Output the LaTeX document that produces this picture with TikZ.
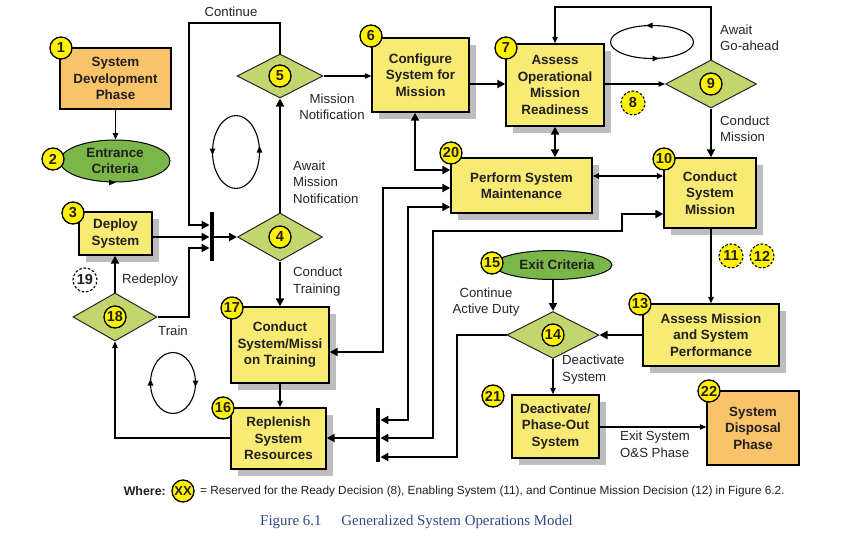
\documentclass[tikz,border=0pt]{standalone}
\usepackage{fontspec}
\setmainfont{Liberation Sans}
\newfontfamily\capserif{Liberation Serif}
\usetikzlibrary{arrows.meta,shapes.geometric,shadows}
\definecolor{boxy}{HTML}{F8EB74}
\definecolor{boxo}{HTML}{F9C36A}
\definecolor{elgreen}{HTML}{7AB648}
\definecolor{diagreen}{HTML}{C3D56E}
\definecolor{badgey}{HTML}{FFF200}
\definecolor{shadowg}{HTML}{BDBDBD}
\definecolor{txt}{HTML}{231F20}
\definecolor{capblue}{HTML}{2F4A8A}
\newcommand\boxfnt{\fontsize{13.4}{16.5}\selectfont\bfseries}
\newcommand\lblfnt{\fontsize{13.2}{16.5}\selectfont}
\newcommand\bdgfnt{\fontsize{14.5}{15}\selectfont\bfseries}
\tikzset{
  boxbase/.style={draw=black, line width=1.4pt, align=center, font=\boxfnt, text=txt, inner sep=0pt},
  ybox/.style={boxbase, fill=boxy, drop shadow={shadow xshift=7pt, shadow yshift=-7pt, fill=shadowg, opacity=1}},
  obox/.style={boxbase, fill=boxo},
  gell/.style={ellipse, draw=black, line width=1pt, fill=elgreen, font=\boxfnt, text=txt, inner sep=0pt, align=center},
  dia/.style={diamond, draw=black!85, line width=1pt, fill=diagreen, inner sep=0pt},
  badge/.style={circle, draw=black, line width=1.3pt, fill=badgey, minimum size=22pt, inner sep=0pt, font=\bdgfnt, text=txt},
  dbadge/.style={badge, minimum size=24pt, dash pattern=on 2.6pt off 1.8pt, line width=1.1pt},
  wbadge/.style={dbadge, fill=white},
  lbl/.style={font=\lblfnt, text=black!85, inner sep=0pt},
  bar/.style={fill=black, inner sep=0pt, minimum width=4.5pt},
  thn/.style={line width=1.2pt},
  mdl/.style={line width=1.8pt},
  thk/.style={line width=2.8pt},
  tipS/.tip={Triangle[length=6.5pt,width=5.5pt]},
  tipL/.tip={Triangle[length=8pt,width=8pt]},
  sa/.style={-tipS},
  la/.style={-tipL},
  sdbl/.style={tipS-tipS},
  ldbl/.style={tipL-tipL},
  cyc/.style={line width=1.1pt}
}
\begin{document}
\begin{tikzpicture}[x=1pt,y=-1pt]
\useasboundingbox[fill=white] (0,0) rectangle (844,546);

% ---- nodes
\node[obox, minimum width=111pt, minimum height=61pt] (n1) at (115.5,78.5) {System\\Development\\Phase};
\node[gell, minimum width=110pt, minimum height=42pt] (n2) at (115,161) {Entrance\\Criteria};
\node[ybox, minimum width=73pt, minimum height=43pt] (n3) at (115.5,233.5) {Deploy\\System};
\node[dia, minimum width=85pt, minimum height=48pt] (d4) at (280,237) {};
\node[dia, minimum width=86pt, minimum height=44pt] (d5) at (280,76) {};
\node[ybox, minimum width=97pt, minimum height=74pt] (n6) at (420.5,75) {Configure\\System for\\Mission};
\node[ybox, minimum width=98pt, minimum height=82pt] (n7) at (555,85) {Assess\\Operational\\Mission\\Readiness};
\node[dia, minimum width=91pt, minimum height=48pt] (d9) at (711,84) {};
\node[ybox, minimum width=92pt, minimum height=70pt] (n10) at (710,193) {Conduct\\System\\Mission};
\node[ybox, minimum width=141pt, minimum height=55pt] (n20) at (521.5,185.5) {Perform System\\Maintenance};
\node[ybox, minimum width=136pt, minimum height=62pt] (n13) at (711,335) {Assess Mission\\and System\\Performance};
\node[dia, minimum width=92pt, minimum height=47pt] (d14) at (553,335) {};
\node[gell, minimum width=111pt, minimum height=29pt] (n15) at (553,265) {\hspace*{8pt}Exit Criteria};
\node[ybox, minimum width=87pt, minimum height=63pt] (n21) at (555.5,426.5) {Deactivate/\\Phase-Out\\System};
\node[obox, minimum width=92pt, minimum height=74pt] (n22) at (753,428) {System\\Disposal\\Phase};
\node[ybox, minimum width=98pt, minimum height=76pt] (n17) at (280,345) {Conduct\\System/Missi\\on Training};
\node[ybox, minimum width=95pt, minimum height=61pt] (n16) at (278.5,438.5) {Replenish\\System\\Resources};
\node[dia, minimum width=84pt, minimum height=48pt] (d18) at (115,317) {};

\node[bar, minimum height=49pt] (barA) at (212,236.5) {};
\node[bar, minimum height=54pt] (barB) at (378,435) {};

% ---- connectors
\draw[thn, sa] (n1.south) -- (n1.south |- n2.north);
\draw[thn, sa] (n2.south) -- (n2.south -| n3.north);
\draw[thk, la] (n3.east |- 0,237) -- (barA.west |- 0,237);
\draw[thk, la] (barA.east |- d4.west) -- (d4.west);
\draw[thk, la] (d4.north) -- (d5.south);
\draw[thk, la] (d5.north) -- (280,23) -- (189,23) -- (189,225) -- (barA.west |- 0,225);
\draw[thk, la] (d18.east) -- (189,317) -- (189,248) -- (barA.west |- 0,248);
\draw[thn, sa] (d5.east) -- (n6.west |- d5.east);
\draw[thk, la] (n6.east |- 0,84) -- (n7.west |- 0,84);
\draw[thn, sa] (n7.east |- d9.west) -- (d9.west);
\draw[thn, sa] (d9.north) -- (711,7) -- (555,7) -- (n7.north);
\draw[thk, la] (d9.south) -- (d9.south |- n10.north);
\draw[thk, ldbl] (n7.south) -- (n7.south |- n20.north);
\draw[mdl, sdbl] (n20.east |- 0,176) -- (n10.west |- 0,176);
\draw[thk, ldbl] (n6.south -| 415,0) -- (415,170) -- (n20.west |- 0,170);
\draw[thk, ldbl] (n20.west |- 0,188) -- (383,188) -- (383,352) -- (n17.east |- 0,352);
\draw[thk, ldbl] (n20.west |- 0,207) -- (408,207) -- (408,420) -- (barB.east |- 0,420);
\draw[thk, ldbl] (n10.west |- 0,214) -- (622,214) -- (622,231) -- (433,231) -- (433,438) -- (barB.east |- 0,438);
\draw[thk, la] (d14.west) -- (457,335) -- (457,457) -- (barB.east |- 0,457);
\draw[thk, la] (barB.west |- 0,438) -- (n16.east |- 0,438);
\draw[thn, sa] (n16.west |- 0,438) -- (115,438) -- (d18.south);
\draw[thk, la] (d18.north) -- (n3.south -| d18.north);
\draw[thk, la] (d4.south) -- (n17.north);
\draw[thn, sa] (n17.south) -- (n17.south |- n16.north);
\draw[thn, sa] (n10.south -| 711,0) -- (n13.north -| 711,0);
\draw[thk, la] (n13.west) -- (d14.east);
\draw[thk, la] (n15.south) -- (d14.north);
\draw[thn, sa] (d14.south) -- (d14.south |- n21.north);
\draw[thn, sa] (n21.east |- 0,427) -- (n22.west |- 0,427);

% ---- badges
\node[badge] (b1) at (61,48) {1};
\node[badge] (b2) at (53,159) {2};
\node[badge] (b3) at (73,213) {3};
\node[badge] (b4) at (d4) {4};
\node[badge] (b5) at (d5) {5};
\node[badge] (b6) at (371,36) {6};
\node[badge] (b7) at (506,48) {7};
\node[dbadge] (b8) at (633,103) {8};
\node[badge] (b9) at (d9) {9};
\node[badge] (b10) at (664,159) {10};
\node[dbadge] (b11) at (731,256) {11};
\node[dbadge] (b12) at (762,256) {12};
\node[badge] (b13) at (640,304) {13};
\node[badge] (b14) at (d14) {14};
\node[badge] (b15) at (492,263) {15};
\node[badge] (b16) at (223,408) {16};
\node[badge] (b17) at (232,308) {17};
\node[badge] (b18) at (d18) {18};
\node[wbadge] (b19) at (85,280) {19};
\node[badge] (b20) at (451,153) {20};
\node[badge] (b21) at (493,396) {21};
\node[badge] (b22) at (709,391) {22};

% ---- labels
\node[lbl] (lContinue) at (231,12) {Continue};
\node[lbl, align=center] (lMN) at (332,107) {Mission\\Notification};
\node[lbl, align=left, anchor=west] (lAMN) at (293,182) {Await\\Mission\\Notification};
\node[lbl, align=left, anchor=west] (lCT) at (293,281.5) {Conduct\\Training};
\node[lbl, anchor=west] (lRedeploy) at (122,280) {Redeploy};
\node[lbl, anchor=west] (lTrain) at (158,331) {Train};
\node[lbl, align=left, anchor=west] (lAG) at (720,38) {Await\\Go-ahead};
\node[lbl, align=left, anchor=west] (lCM) at (720,129) {Conduct\\Mission};
\node[lbl, align=center] (lCAD) at (486,302) {Continue\\Active Duty};
\node[lbl, align=left, anchor=west] (lDS) at (562,369.5) {Deactivate\\System};
\node[lbl, align=left, anchor=west] (lES) at (620,444.5) {Exit System\\O\&S Phase};

% ---- cycle symbols
\draw[cyc] (236,152) ellipse [x radius=23.5, y radius=36.5];
\draw[cyc, sa] (212.5,147) -- (212.5,155);
\draw[cyc, sa] (259.5,154) -- (259.5,146);
\draw[cyc] (173,383) ellipse [x radius=22.5, y radius=30.5];
\draw[cyc, sa] (150.5,387) -- (150.5,379);
\draw[cyc, sa] (195.5,379) -- (195.5,387);
\draw[cyc] (652,42) ellipse [x radius=41.5, y radius=16.5];
\draw[cyc, sa] (654,25.5) -- (646,25.5);
\draw[cyc, sa] (651,58.5) -- (659,58.5);

% ---- legend and caption
\node[inner sep=0pt, anchor=east, font=\fontsize{12.4}{14}\selectfont\bfseries, text=txt] (where) at (166,491) {Where:};
\node[badge, font=\fontsize{13}{14}\selectfont\bfseries] (bxx) at (183,491) {XX};
\node[inner sep=0pt, anchor=west, font=\fontsize{11.8}{14}\selectfont, text=txt] (legend) at (200,491) {= Reserved for the Ready Decision (8), Enabling System (11), and Continue Mission Decision (12) in Figure 6.2.};
\node[inner sep=0pt, font=\capserif\fontsize{14.9}{17}\selectfont, text=capblue] (caption) at (416.5,522) {Figure 6.1\hspace{20pt}Generalized System Operations Model};
\end{tikzpicture}
\end{document}
